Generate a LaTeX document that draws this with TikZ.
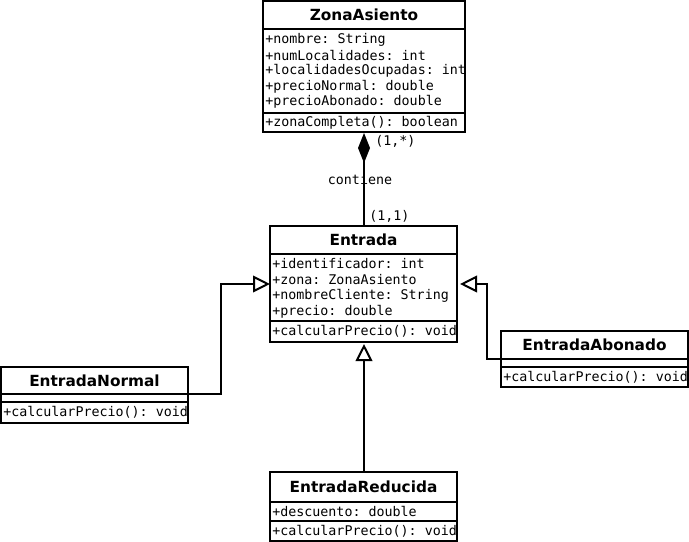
\documentclass[tikz,border=0pt]{standalone}
\usepackage{fontspec}
\setmainfont{DejaVu Sans}
\setmonofont{DejaVu Sans Mono}
\usetikzlibrary{arrows.meta}
\tikzset{
  classbox/.style={draw, line width=1.5pt, inner sep=0pt, outer sep=0pt, fill=white},
  sep/.style={line width=1.5pt},
  ctitle/.style={font=\bfseries\fontsize{11.5}{13}\selectfont, inner sep=0pt},
  member/.style={font=\ttfamily\fontsize{10}{12}\selectfont, anchor=west, inner sep=0pt},
  rolelabel/.style={font=\ttfamily\fontsize{10}{12}\selectfont, inner sep=0pt},
  gen/.style={line width=1.5pt, -{Triangle[open, length=12.75pt, width=12.5pt, fill=white]}},
  comp/.style={line width=1.5pt, {Diamond[length=22.5pt, width=9pt]}-},
}
\begin{document}
\begin{tikzpicture}[x=0.75pt, y=-0.75pt]
\useasboundingbox (0,0) rectangle (689,542);

% ---------- ZonaAsiento ----------
\node[classbox, minimum width=151.5pt, minimum height=98.25pt] (za) at (364,66.5) {};
\draw[sep] (263,29) -- (465,29);
\draw[sep] (263,113) -- (465,113);
\node[ctitle] (zat) at (364,15) {ZonaAsiento};
\node[member] (za1) at (265,39.5) {+nombre: String};
\node[member] (za2) at (265,55) {+numLocalidades: int};
\node[member] (za3) at (265,70.7) {+localidadesOcupadas: int};
\node[member] (za4) at (265,86.5) {+precioNormal: double};
\node[member] (za5) at (265,102) {+precioAbonado: double};
\node[member] (za6) at (265,122.5) {+zonaCompleta(): boolean};

% ---------- Entrada ----------
\node[classbox, minimum width=140.25pt, minimum height=87pt] (en) at (363.5,284) {};
\draw[sep] (270,253.5) -- (457,253.5);
\draw[sep] (270,321) -- (457,321);
\node[ctitle] (ent) at (363.5,240) {Entrada};
\node[member] (en1) at (272,264) {+identificador: int};
\node[member] (en2) at (272,280) {+zona: ZonaAsiento};
\node[member] (en3) at (272,296) {+nombreCliente: String};
\node[member] (en4) at (272,311.5) {+precio: double};
\node[member] (en5) at (272,331) {+calcularPrecio(): void};

% ---------- EntradaNormal ----------
\node[classbox, minimum width=140.25pt, minimum height=42pt] (nr) at (94.5,395) {};
\draw[sep] (1,394) -- (188,394);
\draw[sep] (1,401.5) -- (188,401.5);
\node[ctitle] (nrt) at (94.5,380.5) {EntradaNormal};
\node[member] (nr1) at (3,412) {+calcularPrecio(): void};

% ---------- EntradaAbonado ----------
\node[classbox, minimum width=140.25pt, minimum height=42pt] (ab) at (594.5,359) {};
\draw[sep] (501,359) -- (688,359);
\draw[sep] (501,366.5) -- (688,366.5);
\node[ctitle] (abt) at (594.5,344.5) {EntradaAbonado};
\node[member] (ab1) at (503,377) {+calcularPrecio(): void};

% ---------- EntradaReducida ----------
\node[classbox, minimum width=140.25pt, minimum height=51.75pt] (rd) at (363.5,506.5) {};
\draw[sep] (270,502) -- (457,502);
\draw[sep] (270,521) -- (457,521);
\node[ctitle] (rdt) at (363.5,487) {EntradaReducida};
\node[member] (rd1) at (272,511) {+descuento: double};
\node[member] (rd2) at (272,531) {+calcularPrecio(): void};

% ---------- connectors ----------
\coordinate (zabot) at (364,133);
\coordinate (entop) at (364,226);
\draw[comp] (zabot) -- (entop);
\node[rolelabel, anchor=west] (m1) at (375,141) {(1,*)};
\node[rolelabel] (lab) at (360,180) {contiene};
\node[rolelabel, anchor=west] (m2) at (369,216) {(1,1)};

\coordinate (nbend) at (221,284);
\coordinate (nout) at (188,394);
\draw[gen] (nout) -| (nbend) -- (en.west);

\coordinate (abend) at (487,284);
\coordinate (aout) at (501,359);
\draw[gen] (aout) -| (abend) -- ([xshift=2.25pt]en.east);

\coordinate (rtop) at (364,472);
\coordinate (enbot) at (364,344);
\draw[gen] (rtop) -- (enbot);
\end{tikzpicture}
\end{document}
